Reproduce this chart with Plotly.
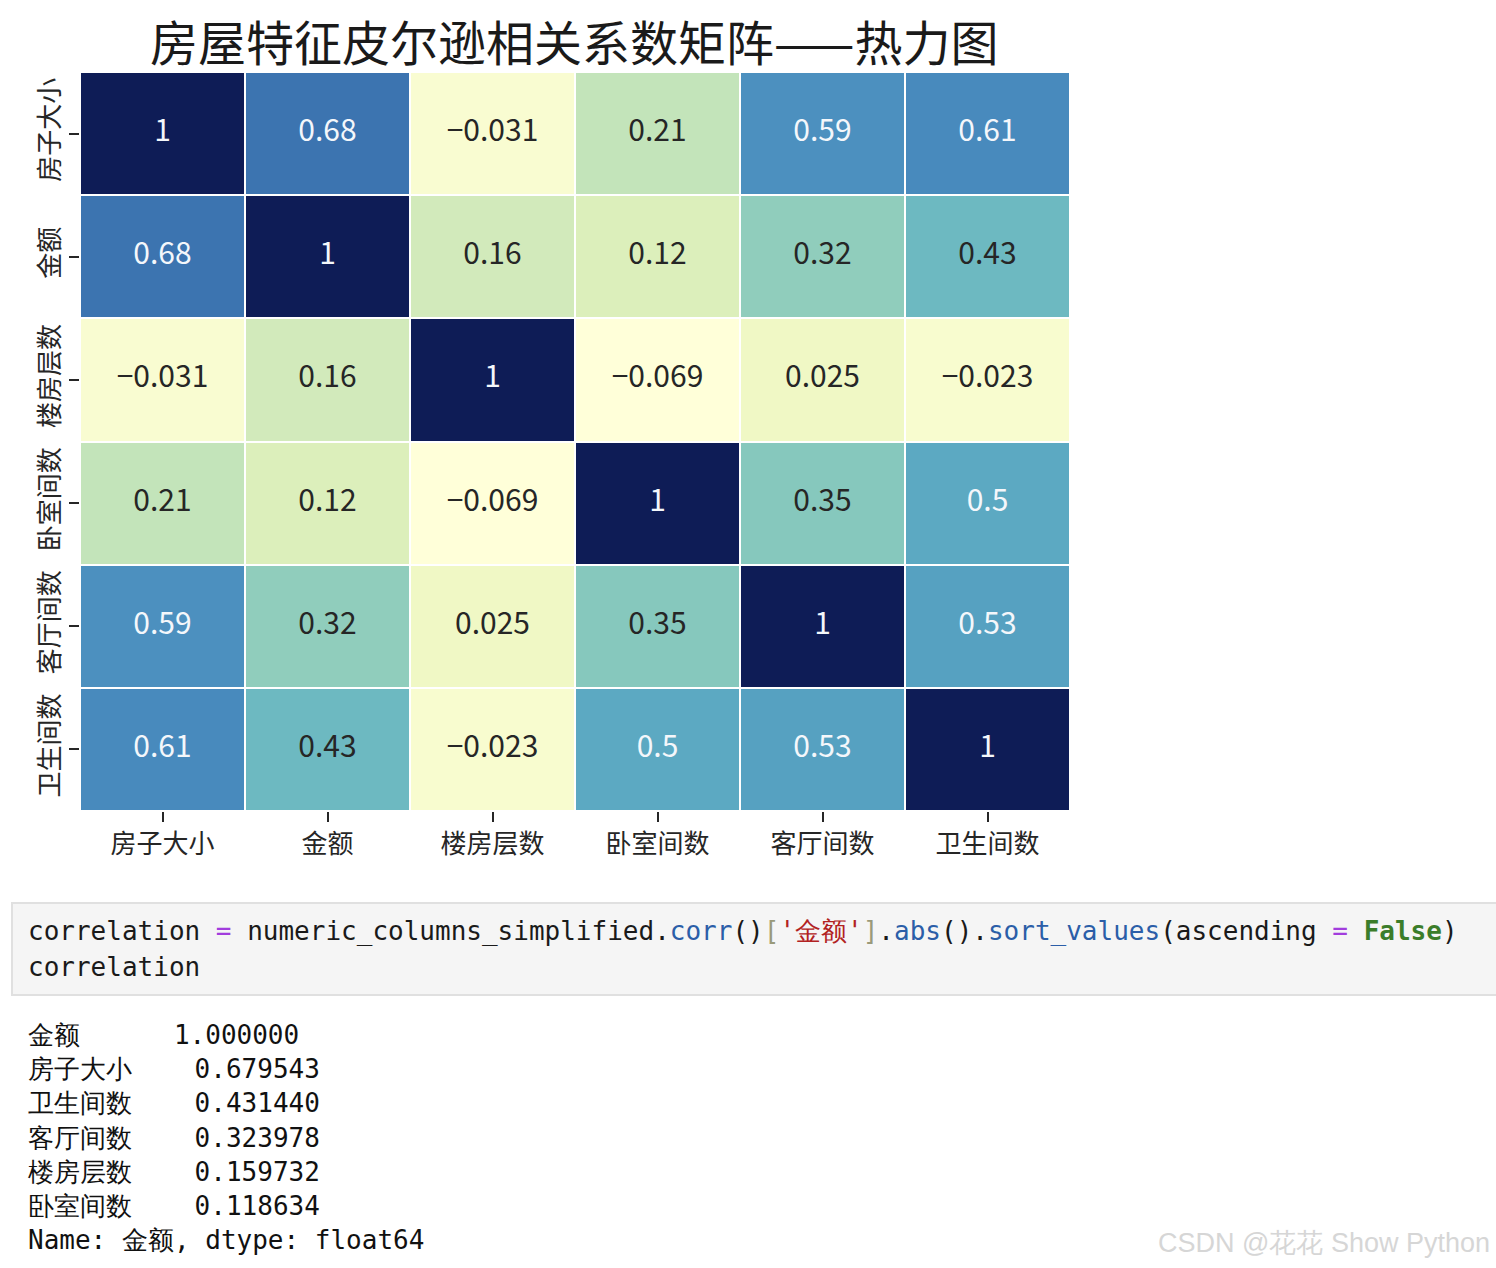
import plotly.graph_objects as go

# ---------------- data ----------------
labels = ['房子大小', '金额', '楼房层数', '卧室间数', '客厅间数', '卫生间数']

row_house_size = [1.0, 0.679543, -0.031, 0.21, 0.59, 0.61]
row_amount     = [0.679543, 1.0, 0.159732, 0.118634, 0.323978, 0.431440]
row_floors     = [-0.031, 0.159732, 1.0, -0.069, 0.025, -0.023]
row_bedrooms   = [0.21, 0.118634, -0.069, 1.0, 0.35, 0.50]
row_livings    = [0.59, 0.323978, 0.025, 0.35, 1.0, 0.53]
row_bathrooms  = [0.61, 0.431440, -0.023, 0.50, 0.53, 1.0]
corr = [row_house_size, row_amount, row_floors, row_bedrooms, row_livings, row_bathrooms]

series_names  = ['金额', '房子大小', '卫生间数', '客厅间数', '楼房层数', '卧室间数']
series_values = [1.0, 0.679543, 0.431440, 0.323978, 0.159732, 0.118634]

title_text = '房屋特征皮尔逊相关系数矩阵——热力图'

# ---------------- layout helpers ----------------
W, H = 1496, 1268
L, R, T, B = 80, 1070, 72, 811


def px(x):
    return (x - L) / (R - L)


def py(y):
    return (B - y) / (B - T)


# YlGnBu, slightly muted as in the screenshot
ylgnbu = ['#ffffd9', '#eaf5bc', '#c8e6ba', '#8ccbbc', '#62b3c3',
          '#4a8dbf', '#3364a6', '#283a8a', '#0e1c56']
colorscale = [[i / (len(ylgnbu) - 1), c] for i, c in enumerate(ylgnbu)]

flat = [v for r in corr for v in r]
zmin, zmax = min(flat), max(flat)

fig = go.Figure()
fig.add_trace(go.Heatmap(
    z=corr, x=labels, y=labels,
    colorscale=colorscale, zmin=zmin, zmax=zmax,
    showscale=False, xgap=2, ygap=2, hoverinfo='skip',
))

# cell annotations
tx, ty, tt, tc = [], [], [], []
for i, rl in enumerate(labels):
    for j, cl in enumerate(labels):
        v = corr[i][j]
        tx.append(cl)
        ty.append(rl)
        tt.append(f"{v:.2g}".replace('-', '\u2212'))
        tc.append('#f4f7fb' if v > 0.45 else '#262626')
fig.add_trace(go.Scatter(
    x=tx, y=ty, text=tt, mode='text',
    textfont=dict(size=30, color=tc, family='Noto Sans CJK SC'),
    hoverinfo='skip', showlegend=False,
))

fig.update_xaxes(
    ticks='outside', ticklen=10, tickwidth=2, tickcolor='#262626',
    tickfont=dict(size=26, color='#262626', family='Noto Sans CJK SC'),
    showgrid=False, zeroline=False, showline=False,
)
fig.update_yaxes(
    autorange='reversed',
    ticks='outside', ticklen=10, tickwidth=2, tickcolor='#262626',
    tickangle=-90,
    tickfont=dict(size=26, color='#262626', family='Noto Sans CJK SC'),
    showgrid=False, zeroline=False, showline=False,
)

annotations = []
# title
annotations.append(dict(
    text=title_text, x=px(574), y=py(40), xref='paper', yref='paper',
    xanchor='center', yanchor='middle', showarrow=False,
    font=dict(size=48, color='#1a1a1a', family='Noto Sans CJK SC'),
))

# code cell
mono = 'DejaVu Sans Mono'
EQ = '<span style="color:#a23ddd">=</span>'
BLUE = '#2b5ea8'
line1 = ('correlation ' + EQ + ' numeric_columns_simplified.'
         f'<span style="color:{BLUE}">corr</span>()'
         '<span style="color:#9a9a7a">[</span>'
         '<span style="color:#b22222">\'金额\'</span>'
         '<span style="color:#9a9a7a">]</span>.'
         f'<span style="color:{BLUE}">abs</span>().'
         f'<span style="color:{BLUE}">sort_values</span>(ascending ' + EQ +
         ' <b><span style="color:#3b7d2a">False</span></b>)')
line2 = 'correlation'
for txt, yc in [(line1, 931), (line2, 967)]:
    annotations.append(dict(
        text=txt, x=px(26), y=py(yc), xref='paper', yref='paper',
        xanchor='left', yanchor='middle', showarrow=False,
        font=dict(size=26, color='#1a1a1a', family=mono),
    ))

# output lines
out_lines = []
for n, v in zip(series_names, series_values):
    out_lines.append(n + '\u00a0' * (4 - len(n) + 4) + f"{v:.6f}")
out_lines.append('Name:\u00a0金额,\u00a0dtype:\u00a0float64')
for k, txt in enumerate(out_lines):
    annotations.append(dict(
        text=txt, x=px(26), y=py(1035 + 34.2 * k), xref='paper', yref='paper',
        xanchor='left', yanchor='middle', showarrow=False,
        font=dict(size=26, color='#111111', family=mono),
    ))

# watermark
annotations.append(dict(
    text='CSDN @花花 Show Python', x=px(1492), y=py(1243), xref='paper', yref='paper',
    xanchor='right', yanchor='middle', showarrow=False,
    font=dict(size=27, color='#d6d6d6', family='Liberation Sans'),
))

shapes = [dict(
    type='rect', xref='paper', yref='paper',
    x0=px(12), x1=px(1500), y0=py(995), y1=py(903),
    fillcolor='#f5f5f5', line=dict(color='#e0e0e0', width=2), layer='below',
)]

fig.update_layout(
    width=W, height=H,
    margin=dict(l=L, r=W - R, t=T, b=H - B, pad=0),
    paper_bgcolor='white', plot_bgcolor='white',
    annotations=annotations, shapes=shapes,
    showlegend=False, hovermode=False,
)

fig.write_html('out.html', config={'displayModeBar': False})
